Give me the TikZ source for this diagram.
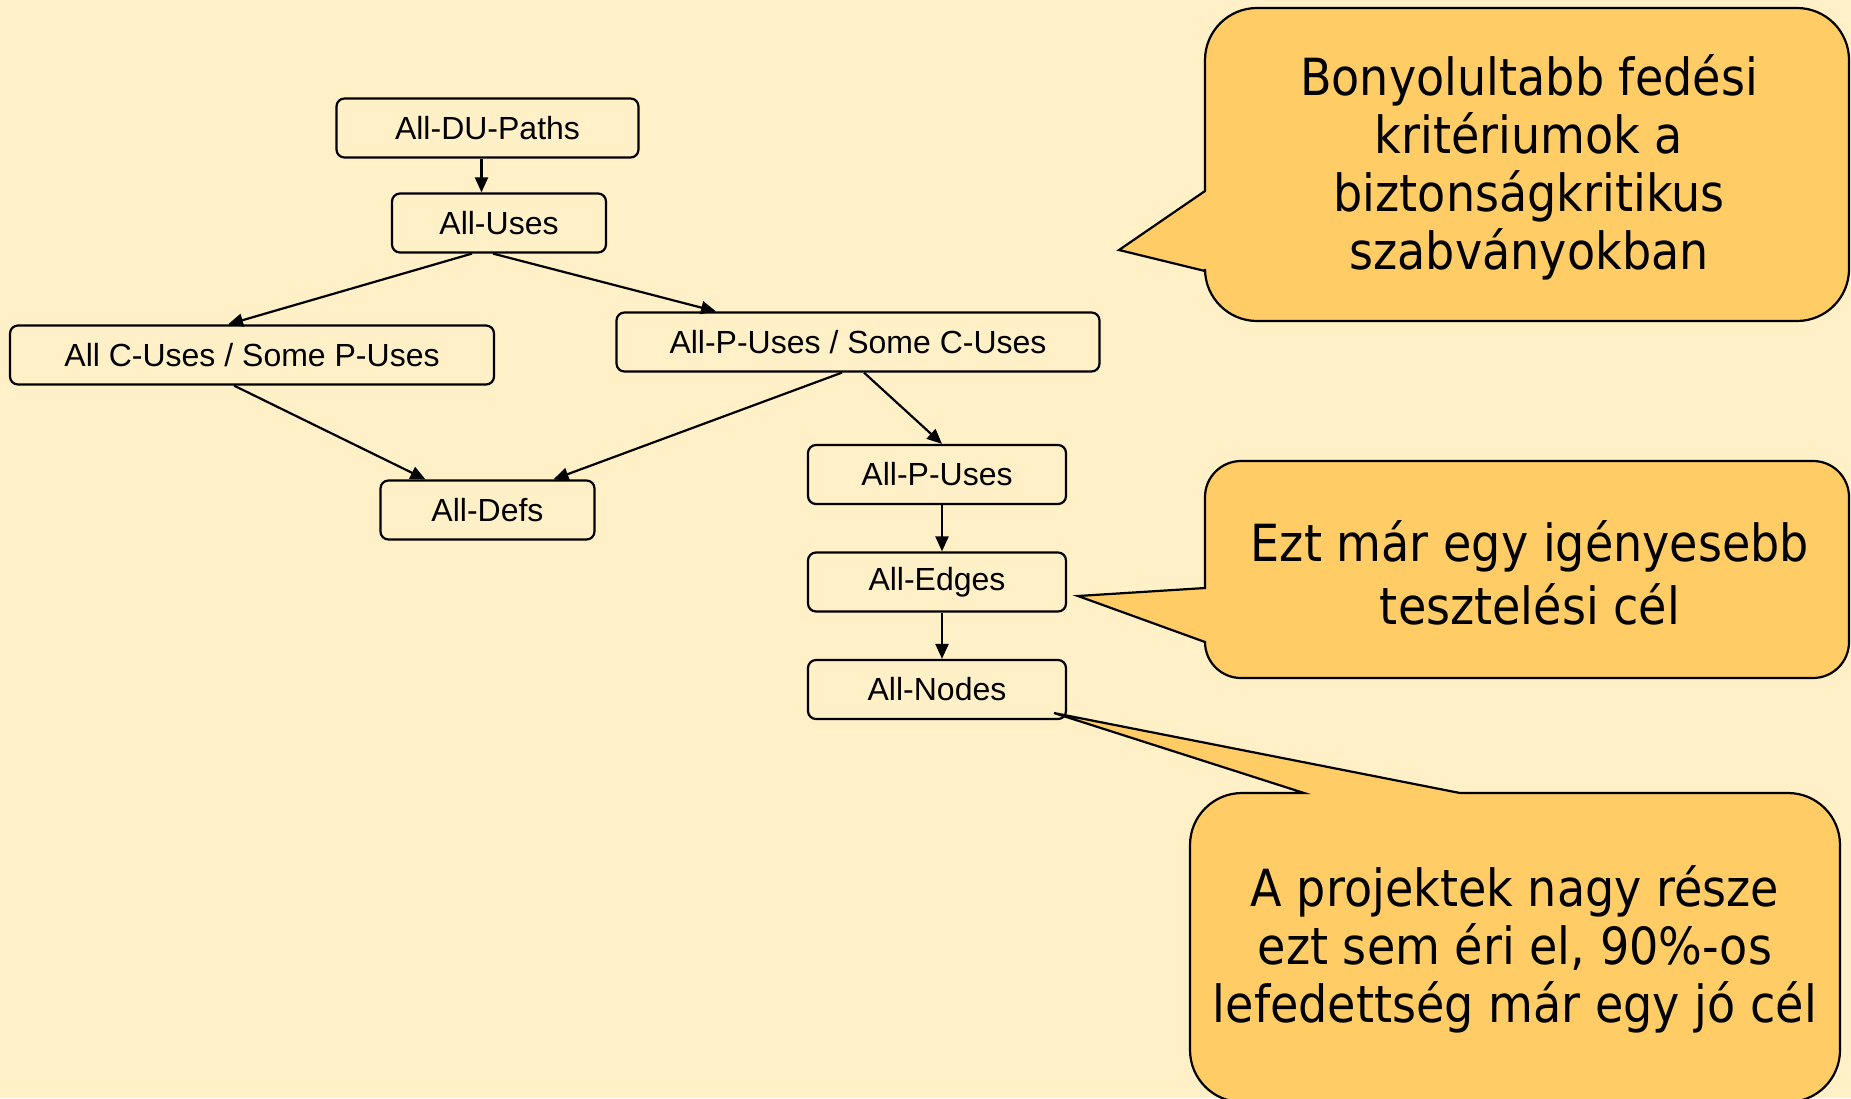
\documentclass[tikz,border=0pt]{standalone}
\usepackage{fontspec}
\setmainfont{Liberation Sans}
\newfontfamily\calloutfont[FakeStretch=0.9]{DejaVu Sans}
\usetikzlibrary{arrows.meta}

\definecolor{bgcream}{RGB}{255,240,200}
\definecolor{callfill}{RGB}{255,204,102}

\begin{document}
\begin{tikzpicture}[x=0.5pt, y=-0.5pt, >={Triangle[length=7.5pt, width=6.5pt]}, line width=1.1pt]
    \tikzset{
        crit/.style={
                draw, rounded corners=4pt, minimum height=29.5pt, inner sep=0pt,
                font=\fontsize{16}{19}\selectfont
            },
        sub/.style={->},
        callout/.style={draw, fill=callfill},
        notetext/.style={align=center, font=\calloutfont\fontsize{25.6}{29}\selectfont}
    }

    % Background
    \useasboundingbox (0,0) rectangle (1851,1098);
    \fill[bgcream] (0,0) rectangle (1851,1098);

    % Coverage criteria
    \node[crit, minimum width=151pt] (du) at (487.5,128) {All-DU-Paths};
    \node[crit, minimum width=107pt] (uses) at (499,223) {All-Uses};
    \node[crit, minimum width=242pt] (cuse) at (252,355) {All C-Uses / Some P-Uses};
    \node[crit, minimum width=241.5pt] (puse) at (858,342) {All-P-Uses / Some C-Uses};
    \node[crit, minimum width=107pt] (defs) at (487.5,510) {All-Defs};
    \node[crit, minimum width=129pt] (pall) at (937,474.5) {All-P-Uses};
    \node[crit, minimum width=129pt] (edges) at (937,582) {All-Edges};
    \node[crit, minimum width=129pt] (allnodes) at (937,689.5) {All-Nodes};

    % Subsumption arrows
    \draw[sub] ([xshift=-3pt]du.south) -- ([xshift=-3pt]du.south |- uses.north);
    \draw[sub] ([xshift=-13.5pt]uses.south) -- ([xshift=-12pt]cuse.north);
    \draw[sub] ([xshift=-3pt]uses.south) -- ([xshift=-71pt]puse.north);
    \draw[sub] ([xshift=-9pt]cuse.south) -- ([xshift=-31pt]defs.north);
    \draw[sub] ([xshift=-8pt]puse.south) -- ([xshift=33pt]defs.north);
    \draw[sub] ([xshift=3pt]puse.south) -- ([xshift=2.5pt]pall.north);
    \draw[sub] ([xshift=2.5pt]pall.south) -- ([xshift=2.5pt]edges.north);
    \draw[sub] ([xshift=2.5pt]edges.south) -- ([xshift=2.5pt]allnodes.north);

    % Callouts
    \draw[callout] (1205,191) -- (1205,60) arc[start angle=180, end angle=270, radius=52]
        -- (1797,8) arc[start angle=270, end angle=360, radius=52]
        -- (1849,269) arc[start angle=0, end angle=90, radius=52]
        -- (1257,321) arc[start angle=90, end angle=180, radius=52]
        -- (1205,271) -- (1119,250) -- cycle;
    \draw[callout] (1205,588) -- (1205,497) arc[start angle=180, end angle=270, radius=36]
        -- (1813,461) arc[start angle=270, end angle=360, radius=36]
        -- (1849,642) arc[start angle=0, end angle=90, radius=36]
        -- (1241,678) arc[start angle=90, end angle=180, radius=36]
        -- (1078,596) -- cycle;
    \draw[callout] (1304,793) -- (1054,713) -- (1460,793)
        -- (1788,793) arc[start angle=270, end angle=360, radius=52]
        -- (1840,1050) arc[start angle=0, end angle=90, radius=52]
        -- (1242,1102) arc[start angle=90, end angle=180, radius=52]
        -- (1190,845) arc[start angle=180, end angle=270, radius=52]
        -- cycle;

    \node[notetext] (note1) at (1529,167) {Bonyolultabb fedési\\kritériumok a\\biztonságkritikus\\szabványokban};
    \node[notetext, font=\calloutfont\fontsize{25.6}{31.5}\selectfont] (note2) at (1530,573) {Ezt már egy igényesebb\\tesztelési cél};
    \node[notetext] (note3) at (1515,949) {A projektek nagy része\\ezt sem éri el, 90\%-os\\lefedettség már egy jó cél};
\end{tikzpicture}
\end{document}
